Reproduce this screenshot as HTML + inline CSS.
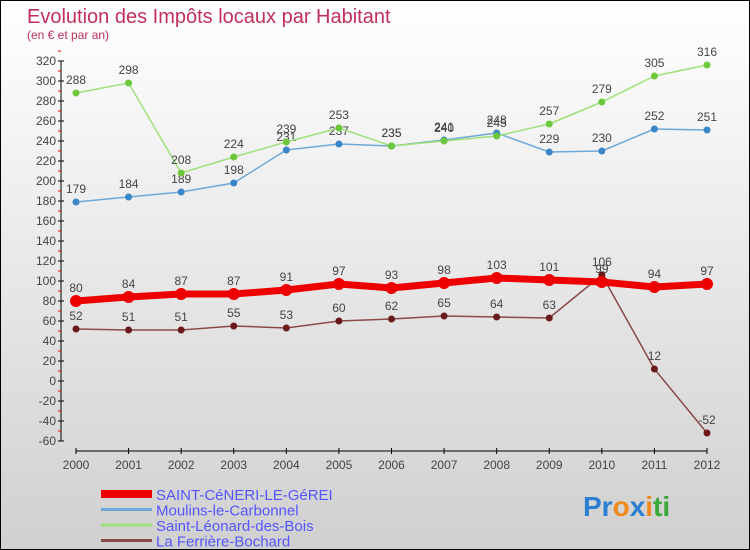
<!DOCTYPE html>
<html><head><meta charset="utf-8">
<style>
body{margin:0;}
#wrap{position:relative;width:748px;height:548px;border:1px solid #000;background:linear-gradient(#ffffff,#d0d0d0);font-family:"Liberation Sans",sans-serif;overflow:hidden;}
</style></head>
<body>
<div id="wrap">
<svg id="chart" width="748" height="548" style="position:absolute;left:0;top:0;font-family:'Liberation Sans',sans-serif;">
<text x="26" y="22" font-size="20" fill="#c0305a">Evolution des Impôts locaux par Habitant</text>
<text x="26" y="38" font-size="12" fill="#c0305a">(en € et par an)</text>
<g id="axes"></g>
<g id="series"></g>
<g id="legend"></g>
<text x="582" y="515" font-size="28" font-weight="bold"><tspan fill="#2a7fd0">Pr</tspan><tspan fill="#f08a1c">o</tspan><tspan fill="#2a7fd0">x</tspan><tspan fill="#f08a1c">i</tspan><tspan fill="#3aa83a">ti</tspan></text>
</svg>
</div>
<script>
const years=[2000,2001,2002,2003,2004,2005,2006,2007,2008,2009,2010,2011,2012];
const yTicks=[-60,-40,-20,0,20,40,60,80,100,120,140,160,180,200,220,240,260,280,300,320];
const saintCeneri=[80,84,87,87,91,97,93,98,103,101,99,94,97];
const moulins=[179,184,189,198,231,237,235,241,248,229,230,252,251];
const saintLeonard=[288,298,208,224,239,253,235,240,245,257,279,305,316];
const laFerriere=[52,51,51,55,53,60,62,65,64,63,106,12,-52];
const NS="http://www.w3.org/2000/svg";
const X=i=>75+i*(706-75)/(years.length-1);
const Y=v=>380-v;
function mk(tag,attrs,parent,text){const e=document.createElementNS(NS,tag);for(const k in attrs)e.setAttribute(k,attrs[k]);if(text!==undefined)e.textContent=text;parent.appendChild(e);return e;}
const axes=document.getElementById('axes');
let yl=mk('line',{x1:60,y1:Y(320),x2:60,y2:Y(-60),stroke:'#000'},axes);

yTicks.forEach(v=>{
  mk('line',{x1:57,y1:Y(v),x2:63,y2:Y(v),stroke:'#000'},axes);
  mk('line',{x1:57,y1:Y(v+10),x2:60,y2:Y(v+10),stroke:'#e00'},axes);
  const t=mk('text',{x:55,y:Y(v)+4,'font-size':12,'text-anchor':'end',fill:'#444'},axes,String(v));
  
});
let xl=mk('line',{x1:75,y1:450,x2:706,y2:450,stroke:'#000'},axes);

years.forEach((yr,i)=>{
  mk('line',{x1:X(i),y1:447,x2:X(i),y2:453,stroke:'#000'},axes);
  const t=mk('text',{x:X(i),y:468,'font-size':12,'text-anchor':'middle',fill:'#444'},axes,String(yr));
  
});
const series=[
 {name:'moulins-le-carbonnel',data:moulins,color:'#6fa8d8',dot:'#3a86c8',w:1.5,r:3.5,label:'Moulins-le-Carbonnel'},
 {name:'saint-leonard-des-bois',data:saintLeonard,color:'#9ee07a',dot:'#6cc83a',w:1.5,r:3.5,label:'Saint-Léonard-des-Bois'},
 {name:'la-ferriere-bochard',data:laFerriere,color:'#8a4a4a',dot:'#6a1a1a',w:1.5,r:3.5,label:'La Ferrière-Bochard'},
 {name:'saint-ceneri-le-gerei',data:saintCeneri,color:'#ee0000',dot:'#ee0000',w:7,r:6,label:'SAINT-CéNERI-LE-GéREI'}
];
const sg=document.getElementById('series');
series.forEach(s=>{
  const g=mk('g',{},sg);
  
  const pl=mk('polyline',{points:s.data.map((v,i)=>X(i)+','+Y(v)).join(' '),fill:'none',stroke:s.color,'stroke-width':s.w,'stroke-linejoin':'round'},g);
  
  s.data.forEach((v,i)=>{
    const c=mk('circle',{cx:X(i),cy:Y(v),r:s.r,fill:s.dot},g);
    
    const t=mk('text',{x:X(i),y:Y(v)-9,'font-size':12,'text-anchor':'middle',fill:'#444'},g,String(v));
    
  });
});
const lg=document.getElementById('legend');
const order=[series[3],series[0],series[1],series[2]];
order.forEach((s,i)=>{
  const y=493+i*15.5;
  const g=mk('g',{},lg);
  
  mk('line',{x1:100,y1:y,x2:151,y2:y,stroke:s.color,'stroke-width':i===0?8:3},g);
  mk('text',{x:155,y:y+6,'font-size':15,fill:'#5555ff'},g,s.label);
});
</script>
</body></html>
